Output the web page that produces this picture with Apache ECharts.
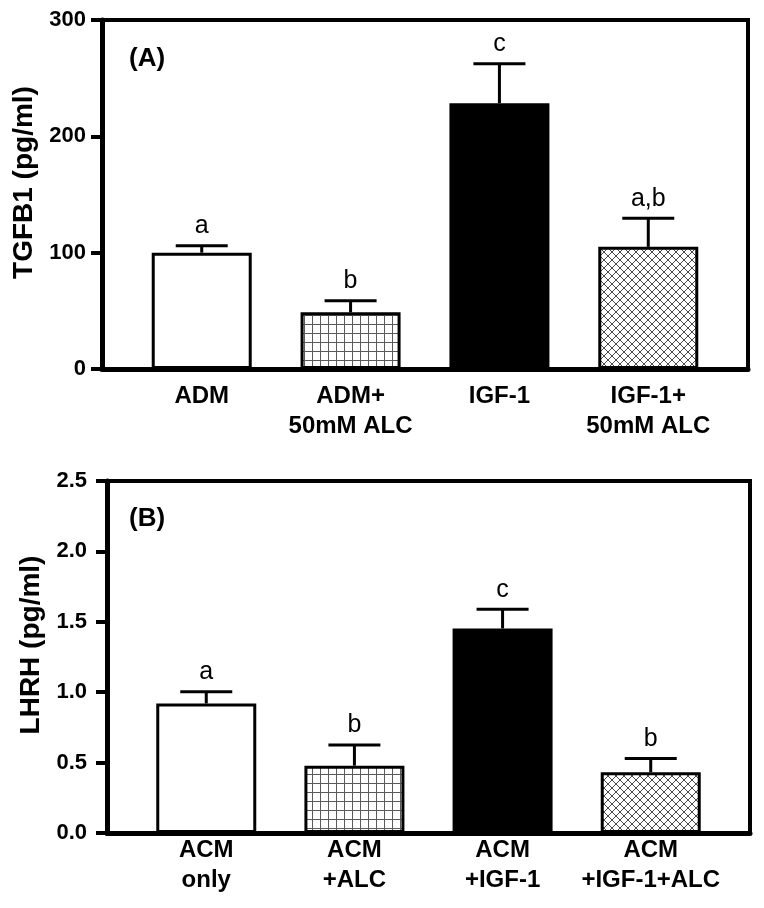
<!DOCTYPE html>
<html>
<head>
<meta charset="utf-8">
<script src="https://cdn.jsdelivr.net/npm/echarts@6/dist/echarts.min.js"></script>
<style>
html,body{margin:0;padding:0;background:#fff;}
#chart{width:764px;height:908px;}
</style>
</head>
<body>
<div id="chart"></div>
<script>
// ---- Data ----
var categoriesA = ['ADM', 'ADM+\n50mM ALC', 'IGF-1', 'IGF-1+\n50mM ALC'];
var valuesA = [100, 48.7, 228.5, 105];
var errorsA = [6, 10, 34, 24.5];
var lettersA = ['a', 'b', 'c', 'a,b'];
var yTicksA = [0, 100, 200, 300];

var categoriesB = ['ACM\nonly', 'ACM\n+ALC', 'ACM\n+IGF-1', 'ACM\n+IGF-1+ALC'];
var valuesB = [0.92, 0.478, 1.453, 0.432];
var errorsB = [0.083, 0.147, 0.137, 0.098];
var lettersB = ['a', 'b', 'c', 'b'];
var yTicksB = [0, 0.5, 1.0, 1.5, 2.0, 2.5];

var FONT = 'Liberation Sans, Arial, Helvetica, sans-serif';

// ---- Fill patterns ----
function gridPattern() {
  var c = document.createElement('canvas');
  c.width = 8; c.height = 9;
  var ctx = c.getContext('2d');
  ctx.fillStyle = '#fff'; ctx.fillRect(0, 0, 8, 9);
  ctx.strokeStyle = '#5a5a5a'; ctx.lineWidth = 1;
  ctx.beginPath();
  ctx.moveTo(0.5, 0); ctx.lineTo(0.5, 9);
  ctx.moveTo(0, 0.5); ctx.lineTo(8, 0.5);
  ctx.stroke();
  return c;
}
function diagPattern() {
  var c = document.createElement('canvas');
  c.width = 8; c.height = 8;
  var ctx = c.getContext('2d');
  ctx.fillStyle = '#fff'; ctx.fillRect(0, 0, 8, 8);
  ctx.strokeStyle = '#4a4a4a'; ctx.lineWidth = 1;
  ctx.beginPath();
  ctx.moveTo(-1, -1); ctx.lineTo(9, 9);
  ctx.moveTo(9, -1); ctx.lineTo(-1, 9);
  ctx.stroke();
  return c;
}
var fills = [
  '#ffffff',
  {image: gridPattern(), repeat: 'repeat'},
  '#000000',
  {image: diagPattern(), repeat: 'repeat'}
];

function barData(vals) {
  return vals.map(function (v, i) {
    return {value: [i, v], itemStyle: {color: fills[i]}};
  });
}
function errData(vals, errs) {
  return vals.map(function (v, i) { return [i, v, errs[i]]; });
}
function errRenderer(letters) {
  return function (params, api) {
    var x = api.value(0), v = api.value(1), e = api.value(2);
    var p0 = api.coord([x, v]);
    var p1 = api.coord([x, v + e]);
    var hw = 26;
    return {
      type: 'group',
      children: [
        {type: 'line', shape: {x1: p0[0], y1: p0[1], x2: p1[0], y2: p1[1]},
         style: {stroke: '#000', lineWidth: 3}},
        {type: 'line', shape: {x1: p1[0] - hw, y1: p1[1], x2: p1[0] + hw, y2: p1[1]},
         style: {stroke: '#000', lineWidth: 3}},
        {type: 'text', x: p1[0], y: p1[1] - 7,
         style: {text: letters[params.dataIndex], fill: '#000',
                 font: '25px ' + FONT, align: 'center', verticalAlign: 'bottom'}}
      ]
    };
  };
}

function xAxis(gridIndex, cats, margin) {
  return {
    type: 'value', gridIndex: gridIndex, min: -0.67, max: 3.67,
    axisLine: {show: true, onZero: false, lineStyle: {color: '#000', width: 5}},
    axisTick: {show: false, customValues: [0, 1, 2, 3]},
    splitLine: {show: false},
    axisLabel: {
      customValues: [0, 1, 2, 3],
      margin: margin,
      formatter: function (v) { return cats[Math.round(v)]; },
      color: '#000', fontFamily: FONT, fontWeight: 'bold', fontSize: 24, lineHeight: 30
    }
  };
}
function yAxis(gridIndex, ticks, name, fmt, margin, nameGap) {
  return {
    type: 'value', gridIndex: gridIndex,
    min: ticks[0], max: ticks[ticks.length - 1], interval: ticks[1] - ticks[0],
    name: name, nameLocation: 'middle', nameGap: nameGap,
    nameTextStyle: {color: '#000', fontFamily: FONT, fontWeight: 'bold', fontSize: 28, padding: [0, 0, 0, 24]},
    axisLine: {show: true, onZero: false, lineStyle: {color: '#000', width: 5}},
    axisTick: {show: true, inside: false, length: 11, lineStyle: {color: '#000', width: 4}},
    splitLine: {show: false},
    axisLabel: {color: '#000', fontFamily: FONT, fontWeight: 'bold', fontSize: 22, margin: margin,
                formatter: fmt}
  };
}

var chart = echarts.init(document.getElementById('chart'), null, {renderer: 'canvas'});
chart.setOption({
  backgroundColor: '#fff',
  animation: false,
  title: [
    {text: '(A)', left: 124, top: 41, textStyle: {color: '#000', fontFamily: FONT, fontWeight: 'bold', fontSize: 26}},
    {text: '(B)', left: 124, top: 501, textStyle: {color: '#000', fontFamily: FONT, fontWeight: 'bold', fontSize: 26}}
  ],
  grid: [
    {left: 102, right: 16, top: 20, height: 349, show: true, borderColor: '#000', borderWidth: 4, backgroundColor: 'transparent'},
    {left: 107, right: 14, top: 481, height: 352, show: true, borderColor: '#000', borderWidth: 4, backgroundColor: 'transparent'}
  ],
  xAxis: [xAxis(0, categoriesA, 12), xAxis(1, categoriesB, 2)],
  yAxis: [
    yAxis(0, yTicksA, 'TGFB1 (pg/ml)', function (v) { return String(v); }, 16, 62),
    yAxis(1, yTicksB, 'LHRH (pg/ml)', function (v) { return v.toFixed(1); }, 20, 62)
  ],
  series: [
    {type: 'bar', xAxisIndex: 0, yAxisIndex: 0, barWidth: 100, data: barData(valuesA),
     itemStyle: {borderColor: '#000', borderWidth: 3}},
    {type: 'custom', xAxisIndex: 0, yAxisIndex: 0, clip: false, renderItem: errRenderer(lettersA),
     encode: {x: 0, y: 1}, data: errData(valuesA, errorsA), z: 3},
    {type: 'bar', xAxisIndex: 1, yAxisIndex: 1, barWidth: 100, data: barData(valuesB),
     itemStyle: {borderColor: '#000', borderWidth: 3}},
    {type: 'custom', xAxisIndex: 1, yAxisIndex: 1, clip: false, renderItem: errRenderer(lettersB),
     encode: {x: 0, y: 1}, data: errData(valuesB, errorsB), z: 3}
  ]
});
</script>
</body>
</html>
